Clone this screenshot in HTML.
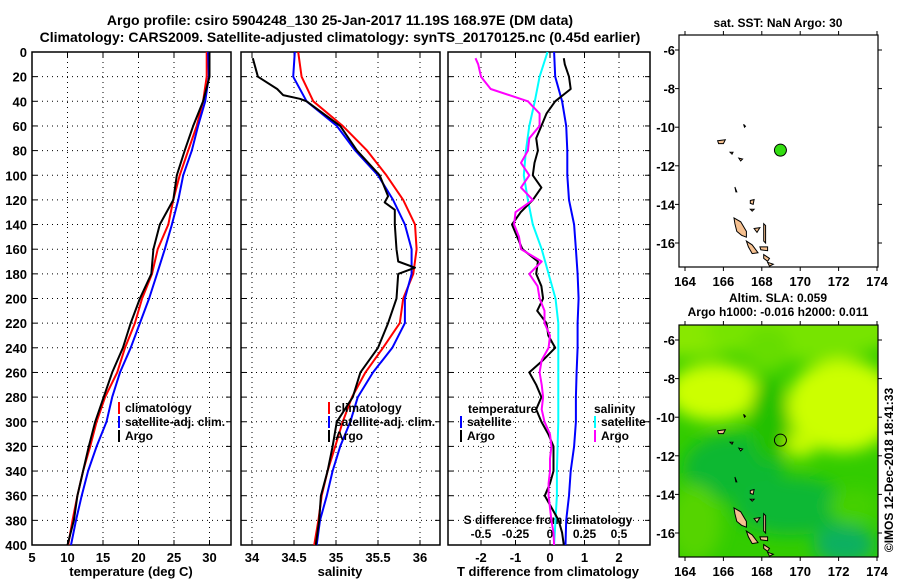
<!DOCTYPE html>
<html><head><meta charset="utf-8"><style>
body{margin:0;background:#fff;}
svg text{font-family:"Liberation Sans",sans-serif;font-weight:bold;fill:#000;}
</style></head><body>
<svg id="c" width="900" height="580" xmlns="http://www.w3.org/2000/svg">
<text x="340" y="25" font-size="14" text-anchor="middle">Argo profile: csiro 5904248_130 25-Jan-2017 11.19S 168.97E (DM data)</text>
<text x="340" y="42" font-size="14" text-anchor="middle">Climatology: CARS2009. Satellite-adjusted climatology: synTS_20170125.nc (0.45d earlier)</text>
<g id="g"></g>
</svg>
<script>
// ---- data ----
const depths = [0,20,40,60,80,100,120,140,160,180,200,220,240,260,280,300,320,340,360,380,400];
const tempClim = [29.6,29.6,29.1,28.2,27.0,25.8,24.9,24.2,22.7,21.9,20.5,19.5,18.1,17.0,15.3,14.1,13.2,12.2,11.4,10.7,10.1];
const tempSat  = [29.8,29.9,29.4,28.4,27.5,26.3,25.6,24.7,23.7,22.6,21.5,20.2,18.9,17.4,16.3,15.5,14.1,12.9,12.0,11.2,10.5];
const tempArgo = [30.0,30.0,29.1,27.7,26.5,25.4,24.9,23.0,22.1,21.8,20.2,18.9,17.8,16.3,15.1,13.9,13.0,12.2,11.4,10.9,10.0];
const salClim = [34.55,34.59,34.73,35.08,35.37,35.60,35.80,35.94,35.96,35.92,35.80,35.76,35.56,35.35,35.19,35.08,34.99,34.90,34.83,34.79,34.74];
const salSat  = [34.51,34.49,34.65,35.01,35.23,35.50,35.68,35.82,35.90,35.90,35.82,35.82,35.67,35.44,35.26,35.17,35.05,34.96,34.89,34.81,34.77];
const argoDepths = [5,20,30,35,38,40,60,80,100,117,122,128,140,160,170,175,180,200,220,240,260,280,300,320,340,360,380,400];
const salArgo = [34.01,34.07,34.30,34.37,34.57,34.65,35.05,35.25,35.52,35.62,35.58,35.70,35.70,35.72,35.74,35.94,35.74,35.72,35.62,35.50,35.29,35.20,35.01,34.96,34.90,34.82,34.80,34.76];
const diffTSat = [0.12,0.15,0.35,0.47,0.50,0.50,0.55,0.70,0.75,0.80,0.83,0.80,0.80,0.77,0.75,0.75,0.70,0.60,0.55,0.47,0.45];
const diffSSat = [-0.018,-0.075,-0.11,-0.15,-0.175,-0.19,-0.16,-0.125,-0.06,-0.01,0.04,0.06,0.06,0.06,0.06,0.06,0.055,0.05,0.05,0.04,0.03];
const diffDepths = [5,10,20,30,40,50,60,70,80,90,100,110,120,130,140,150,160,170,180,190,200,210,220,230,240,250,260,270,280,290,300,310,320,330,340,350,360,370,380,390,400];
const diffTArgo = [0.4,0.43,0.55,0.6,0.15,-0.1,-0.25,-0.4,-0.35,-0.45,-0.5,-0.25,-0.5,-0.85,-1.1,-0.95,-0.8,-0.35,-0.4,-0.25,-0.2,-0.37,-0.1,-0.05,0.15,-0.2,-0.6,-0.4,-0.25,-0.4,-0.25,-0.05,0.1,0.1,0.1,0.0,-0.15,0.05,0.25,0.35,0.4];
const diffSArgo = [-0.54,-0.52,-0.5,-0.43,-0.16,-0.075,-0.075,-0.15,-0.16,-0.21,-0.15,-0.21,-0.125,-0.25,-0.26,-0.225,-0.21,-0.06,-0.15,-0.09,-0.075,-0.04,-0.04,0,-0.01,-0.06,-0.075,-0.06,-0.05,-0.06,-0.04,0,0.01,0,0,-0.01,-0.01,0,0.01,0.025,0.03];
const tempTicks = [5,10,15,20,25,30];
const salTicks = [34,34.5,35,35.5,36];
const diffTTicks = [-2,-1,0,1,2];
const diffSTicks = [-0.5,-0.25,0,0.25,0.5];
const depthTicks = [0,20,40,60,80,100,120,140,160,180,200,220,240,260,280,300,320,340,360,380,400];
const lonTicks = [164,166,168,170,172,174];
const latTicks = [-6,-8,-10,-12,-14,-16];
const argoLon = [168.97];
const argoLat = [-11.19];

// ---- scales ----
const yD = d => 52 + d*1.2325;
const xT = t => 32 + (t-5)*7.1;
const xS = s => 252 + (s-34)*84;
const xDT = v => 550 + v*34.5;
const xDS = v => 550 + v*138;
const mx = lon => 685 + (lon-164)*19.2;
const my1 = lat => 50 + (-6-lat)*19.3;
const my2 = lat => 340 + (-6-lat)*19.3;

const NS='http://www.w3.org/2000/svg';
const G=document.getElementById('g');
function el(tag,attrs,parent){const e=document.createElementNS(NS,tag);for(const k in attrs)e.setAttribute(k,attrs[k]);(parent||G).appendChild(e);return e;}
function txt(x,y,s,size,anchor,parent){const t=el('text',{x:x,y:y,'font-size':size,'text-anchor':anchor||'middle'},parent);t.textContent=s;return t;}
function line(xs,ys,color,w,name){
  let d='';for(let i=0;i<xs.length;i++)d+=(i?'L':'M')+xs[i].toFixed(1)+' '+ys[i].toFixed(1);
  const p=el('path',{d:d,fill:'none',stroke:color,'stroke-width':w,'stroke-linejoin':'round'});
  
  
  return p;
}

function panel(x0,x1,xticks,xf,name,labels){
  const g=el('g',{});
  
  
  const y0=yD(0),y1=yD(400);
  depthTicks.forEach(d=>{ if(d>0&&d<400) el('line',{x1:x0,x2:x1,y1:yD(d),y2:yD(d),stroke:'#000','stroke-width':1,'stroke-dasharray':'1 4'},g);});
  xticks.forEach(v=>{const x=xf(v); if(x>x0+2&&x<x1-2) el('line',{x1:x,x2:x,y1:y0,y2:y1,stroke:'#000','stroke-width':1,'stroke-dasharray':'1 4'},g);});
  depthTicks.forEach(d=>{el('line',{x1:x0,x2:x0+5,y1:yD(d),y2:yD(d),stroke:'#000'},g);el('line',{x1:x1-5,x2:x1,y1:yD(d),y2:yD(d),stroke:'#000'},g);});
  xticks.forEach(v=>{const x=xf(v);el('line',{x1:x,x2:x,y1:y1,y2:y1-5,stroke:'#000'},g);el('line',{x1:x,x2:x,y1:y0,y2:y0+5,stroke:'#000'},g);
    if(labels){const t=txt(x,y1+17,String(v),13,'middle',g);}});
  el('rect',{x:x0,y:y0,width:x1-x0,height:y1-y0,fill:'none',stroke:'#000','stroke-width':1.5},g);
  return g;
}
depthTicks.forEach(d=>{const t=txt(27,yD(d)+5,String(d),13,'end');});

panel(32,231,tempTicks,xT,'temperature-panel',true);
panel(241,440,salTicks,xS,'salinity-panel',true);
panel(448,650,diffTTicks,xDT,'difference-panel',true);

let t;
t=txt(131,576,'temperature (deg C)',13);
t=txt(340,576,'salinity',13);
t=txt(548,576,'T difference from climatology',13);
t=txt(548,524,'S difference from climatology',12);
diffSTicks.forEach(v=>{const t=txt(xDS(v),538,String(v),12);});

const yy=depths.map(yD), ya=argoDepths.map(yD), yd=diffDepths.map(yD);
line(tempClim.map(xT),yy,'#f00',2,'temp-climatology-line');
line(tempSat.map(xT),yy,'#00f',2,'temp-satellite-line');
line(tempArgo.map(xT),yy,'#000',2,'temp-argo-line');
line(salClim.map(xS),yy,'#f00',2,'sal-climatology-line');
line(salSat.map(xS),yy,'#00f',2,'sal-satellite-line');
line(salArgo.map(xS),ya,'#000',2,'sal-argo-line');
line(diffTSat.map(xDT),yy,'#00f',2,'diff-t-satellite-line');
line(diffSSat.map(xDS),yy,'#0ff',2,'diff-s-satellite-line');
line(diffTArgo.map(xDT),yd,'#000',2,'diff-t-argo-line');
line(diffSArgo.map(xDS),yd,'#f0f',2,'diff-s-argo-line');

function legend(x,y,items,name){
  const g=el('g',{});
  items.forEach((it,i)=>{const yy=y+i*14;el('rect',{x:x,y:yy-10,width:2,height:12,fill:it[1]},g);txt(x+7,yy,it[0],12,'start',g);});
}
legend(118,412,[['climatology','#f00'],['satellite-adj. clim.','#00f'],['Argo','#000']],'temperature-legend');
legend(328,412,[['climatology','#f00'],['satellite-adj. clim.','#00f'],['Argo','#000']],'salinity-legend');
t=txt(468,413,'temperature',12,'start');
legend(460,426,[['satellite','#00f'],['Argo','#000']],'diff-temperature-legend');
t=txt(594,413,'salinity',12,'start');
legend(594,426,[['satellite','#0ff'],['Argo','#f0f']],'diff-salinity-legend');

const islands=[
 [[166.55,-14.7],[166.9,-14.9],[167.2,-15.4],[167.2,-15.7],[166.95,-15.6],[166.7,-15.4],[166.6,-15.0]],
 [[167.2,-15.9],[167.5,-16.1],[167.8,-16.5],[167.5,-16.55],[167.3,-16.2]],
 [[167.9,-16.2],[168.3,-16.2],[168.3,-16.4],[167.95,-16.35]],
 [[168.1,-15.0],[168.2,-15.1],[168.2,-16.0],[168.1,-15.9]],
 [[167.6,-15.25],[167.9,-15.2],[167.75,-15.45]],
 [[168.1,-16.6],[168.4,-16.8],[168.3,-16.95],[168.1,-16.8]],
 [[168.3,-17.0],[168.6,-17.1],[168.4,-17.2]],
 [[167.4,-13.8],[167.6,-13.75],[167.55,-14.0],[167.4,-13.95]],
 [[167.4,-14.25],[167.6,-14.25],[167.5,-14.35]],
 [[165.7,-10.7],[166.1,-10.65],[166.0,-10.85],[165.75,-10.85]],
 [[166.8,-11.6],[167.0,-11.65],[166.9,-11.75]],
 [[166.35,-11.3],[166.5,-11.3],[166.45,-11.4]],
 [[166.6,-13.1],[166.7,-13.35],[166.65,-13.35]],
 [[167.05,-9.85],[167.15,-9.95],[167.1,-10.0]]
];
function map(top,myf,name,heat){
  const g=el('g',{});
  const L=679,R=878,B=top+232;
  if(heat){
    const cp=el('clipPath',{id:'cp'},g);el('rect',{x:L,y:top,width:R-L,height:B-top},cp);
    const f=el('filter',{id:'bl',x:'-50%',y:'-50%',width:'200%',height:'200%'},g);el('feGaussianBlur',{stdDeviation:8},f);
    const hg=el('g',{'clip-path':'url(#cp)'},g);
    el('rect',{x:L,y:top,width:R-L,height:B-top,fill:'#33cc00'},hg);
    const bl=el('g',{filter:'url(#bl)'},hg);
    const blobs=[[164,-5.5,4,1.4,'#88e800'],[170,-5.5,5,1.6,'#77e400'],[168.3,-6.5,1.2,1.2,'#66dd00'],
      [165.5,-8.7,2.4,1.5,'#ccff00'],[172.2,-9.4,2.9,2.4,'#ccff00'],[170,-11.4,0.9,0.7,'#c4fa00'],
      [166.5,-12.6,2.6,1.7,'#11b830'],[169.5,-14.6,3,1.5,'#11b835'],[172.3,-16.6,1.6,1.0,'#10b060'],
      [164.5,-15.5,1.4,2,'#55d400'],[172.8,-14.6,1.3,0.9,'#44d000'],[168.4,-10.2,1.0,2.2,'#22c000']];
    blobs.forEach(b=>el('ellipse',{cx:mx(b[0]),cy:myf(b[1]),rx:b[2]*19.2,ry:b[3]*19.3,fill:b[4]},bl));
  }
  islands.forEach(p=>{el('polygon',{points:p.map(q=>mx(q[0]).toFixed(1)+','+myf(q[1]).toFixed(1)).join(' '),fill:'#f5c090',stroke:'#000','stroke-width':1},g);});
  lonTicks.forEach(v=>{const x=mx(v);el('line',{x1:x,x2:x,y1:top,y2:top-4,stroke:'#000'},g);el('line',{x1:x,x2:x,y1:B,y2:B+4,stroke:'#000'},g);txt(x,B+19,String(v),13,'middle',g);});
  latTicks.forEach(v=>{const y=myf(v);el('line',{x1:L,x2:L-4,y1:y,y2:y,stroke:'#000'},g);el('line',{x1:R,x2:R+4,y1:y,y2:y,stroke:'#000'},g);txt(L-4,y+5,String(v),13,'end',g);});
  el('rect',{x:L,y:top,width:R-L,height:B-top,fill:'none',stroke:'#000','stroke-width':1.2},g);
  argoLon.forEach((lo,i)=>{const c=el('circle',{cx:mx(lo),cy:myf(argoLat[i]),r:6,fill:heat?'none':'#33dd11',stroke:'#000','stroke-width':1},g);});
}
map(35,my1,'sst-map',false);
map(325,my2,'sla-map',true);
t=txt(778,27,'sat. SST: NaN Argo: 30',12);
t=txt(778,302,'Altim. SLA: 0.059',12);
t=txt(778,316,'Argo h1000: -0.016 h2000: 0.011',12);
t=txt(0,0,'©IMOS 12-Dec-2018 18:41:33',12);t.setAttribute('transform','translate(893,470) rotate(-90)');t.setAttribute('font-weight','normal');


</script>
</body></html>
